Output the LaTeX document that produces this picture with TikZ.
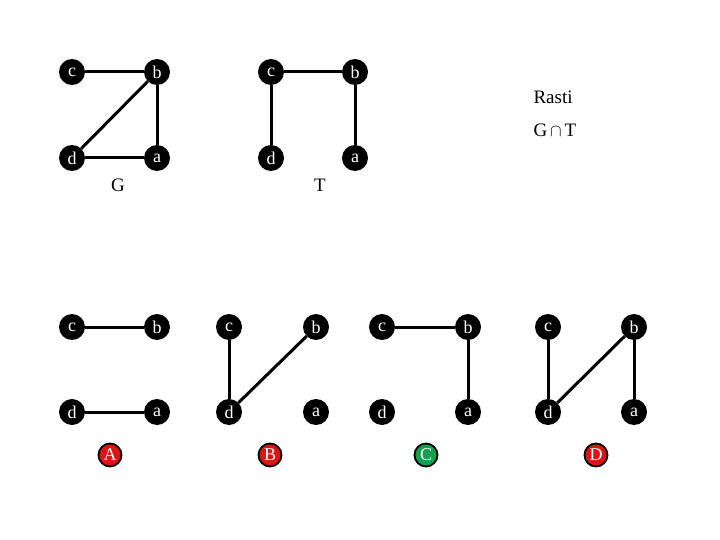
\documentclass[tikz,border=0pt]{standalone}
\usepackage{fontspec}
\setmainfont{Liberation Serif}
\begin{document}
\begin{tikzpicture}[x=1pt,y=-1pt,
  vtx/.style={circle,fill=black,inner sep=0pt,minimum size=26pt,text=white,font=\fontsize{18}{19}\selectfont},
  edge/.style={line width=3pt},
  tag/.style={circle,draw=black,line width=1.8pt,inner sep=0pt,minimum size=23pt,text=white,font=\fontsize{18}{19}\selectfont},
  lbl/.style={font=\fontsize{19}{21}\selectfont}]
\useasboundingbox (0,0) rectangle (720,540);
\definecolor{tagred}{RGB}{220,20,20}
\definecolor{taggreen}{RGB}{20,160,80}
% G
\node[vtx] (gc) at (72,72) {c};
\node[vtx] (gb) at (157,72) {b};
\node[vtx] (gd) at (72,158) {d};
\node[vtx] (ga) at (157,158) {a};
\draw[edge] (gc) -- (gb); \draw[edge] (gb) -- (ga); \draw[edge] (gd) -- (ga); \draw[edge] (gd) -- (gb);
\node[lbl] (gl) at (118,185) {G};
% T
\node[vtx] (tc) at (271,72) {c};
\node[vtx] (tb) at (355,72) {b};
\node[vtx] (td) at (271,158) {d};
\node[vtx] (ta) at (355,158) {a};
\draw[edge] (tc) -- (tb); \draw[edge] (tc) -- (td); \draw[edge] (tb) -- (ta);
\node[lbl] (tl) at (320,185) {T};
% Rasti
\node[lbl,anchor=west] (r1) at (530,97) {Rasti};
\node[lbl,anchor=west] (r2) at (530,130) {G$\,\cap\,$T};
% A
\node[vtx] (ac) at (72,327) {c};
\node[vtx] (ab) at (157,327) {b};
\node[vtx] (ad) at (72,412) {d};
\node[vtx] (aa) at (157,412) {a};
\draw[edge] (ac) -- (ab); \draw[edge] (ad) -- (aa);
\node[tag,fill=tagred] (at) at (110,455) {A};
% B
\node[vtx] (bc) at (229,327) {c};
\node[vtx] (bb) at (316,327) {b};
\node[vtx] (bd) at (229,412) {d};
\node[vtx] (ba) at (316,412) {a};
\draw[edge] (bc) -- (bd); \draw[edge] (bd) -- (bb);
\node[tag,fill=tagred] (bt) at (270,455) {B};
% C
\node[vtx] (cc) at (382,327) {c};
\node[vtx] (cb) at (468,327) {b};
\node[vtx] (cd) at (382,412) {d};
\node[vtx] (ca) at (468,412) {a};
\draw[edge] (cc) -- (cb); \draw[edge] (cb) -- (ca);
\node[tag,fill=taggreen] (ct) at (426,455) {C};
% D
\node[vtx] (dc) at (548,327) {c};
\node[vtx] (db) at (634,327) {b};
\node[vtx] (dd) at (548,412) {d};
\node[vtx] (da) at (634,412) {a};
\draw[edge] (dc) -- (dd); \draw[edge] (dd) -- (db); \draw[edge] (db) -- (da);
\node[tag,fill=tagred] (dt) at (596,455) {D};
\end{tikzpicture}
\end{document}
